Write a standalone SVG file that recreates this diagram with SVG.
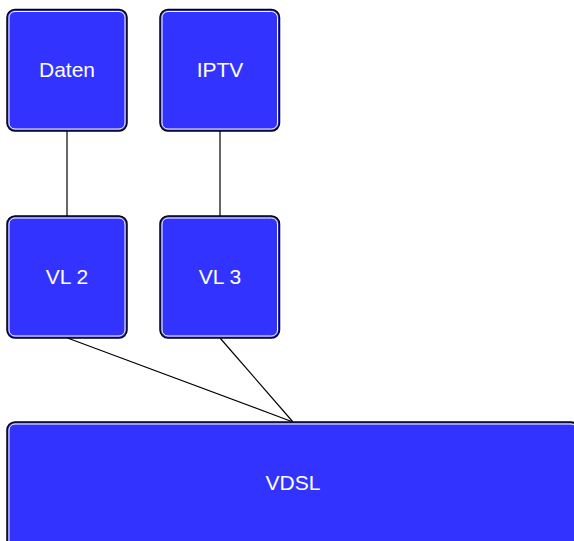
<svg xmlns="http://www.w3.org/2000/svg" width="574" height="541" viewBox="0 0 574 541">
<style>
.box{fill:#3333ff;stroke:#000;stroke-width:1.5}
.inner{fill:none;stroke:#fff;stroke-width:1}
.lbl{fill:#fff;font-family:"Liberation Sans",Arial,sans-serif;font-size:21px;text-anchor:middle}
.conn{stroke:#000;stroke-width:1.2;fill:none}
</style>
<rect width="574" height="541" fill="#fff"/>
<g id="connectors">
<line class="conn" x1="67" y1="131" x2="67" y2="216"/>
<line class="conn" x1="220" y1="131" x2="220" y2="216"/>
<line class="conn" x1="67.5" y1="338" x2="293" y2="422"/>
<line class="conn" x1="220" y1="338" x2="293" y2="422"/>
</g>
<g id="daten">
<rect class="box" x="7" y="9.5" width="120" height="121.5" rx="8"/>
<rect class="inner" x="9" y="11.5" width="116" height="117.5" rx="6"/>
<text class="lbl" x="67" y="77.3">Daten</text>
</g>
<g id="iptv">
<rect class="box" x="160" y="9.5" width="119.5" height="121.5" rx="8"/>
<rect class="inner" x="162" y="11.5" width="115.5" height="117.5" rx="6"/>
<text class="lbl" x="220" y="77.3">IPTV</text>
</g>
<g id="vl2">
<rect class="box" x="7" y="216" width="120" height="122" rx="8"/>
<rect class="inner" x="9" y="218" width="116" height="118" rx="6"/>
<text class="lbl" x="67" y="284.3">VL 2</text>
</g>
<g id="vl3">
<rect class="box" x="160" y="216" width="119.5" height="122" rx="8"/>
<rect class="inner" x="162" y="218" width="115.5" height="118" rx="6"/>
<text class="lbl" x="220" y="284.3">VL 3</text>
</g>
<g id="vdsl">
<rect class="box" x="7" y="422" width="572" height="130" rx="8"/>
<rect class="inner" x="9" y="424" width="568" height="126" rx="6"/>
<text class="lbl" x="293" y="490">VDSL</text>
</g>
</svg>
